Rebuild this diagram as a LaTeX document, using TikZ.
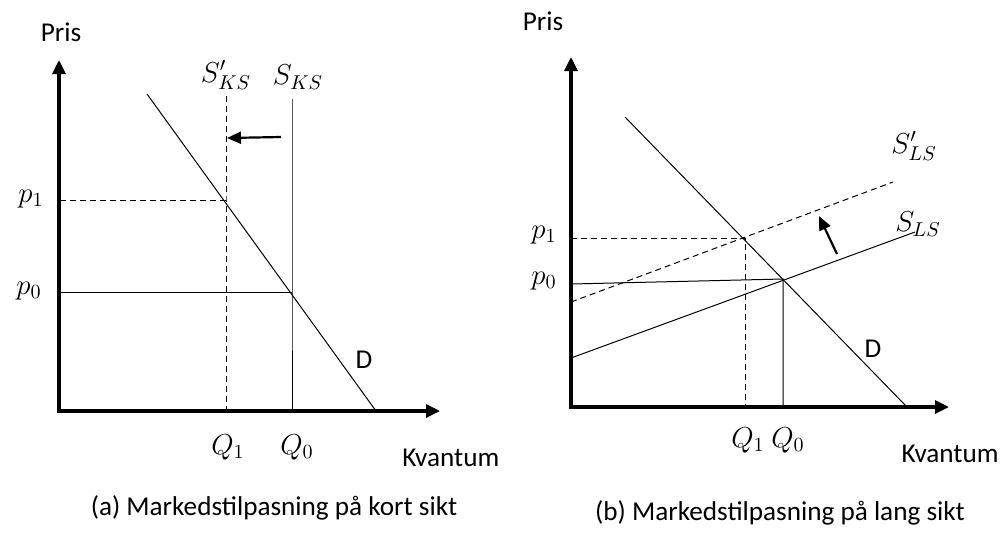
\documentclass[tikz,border=0pt]{standalone}
\usepackage{fontspec}
\setmainfont{Carlito}
\usetikzlibrary{arrows.meta}
\begin{document}
\begin{tikzpicture}[
  x=0.5pt, y=-0.5pt,
  axis/.style={line width=1.6pt, {Triangle[length=7pt,width=6.5pt]}-{Triangle[length=7pt,width=6.5pt]}},
  curve/.style={line width=0.5pt},
  guide/.style={line width=0.5pt, dashed, dash pattern=on 3pt off 2pt},
  shiftarrow/.style={line width=1.1pt, -{Triangle[length=7pt,width=6pt]}},
  txt/.style={font=\fontsize{13.6}{16}\selectfont, inner sep=1pt},
  mth/.style={font=\fontsize{14.5}{17}\selectfont, inner sep=1pt}
]
  \useasboundingbox (0,0) rectangle (1002,532);

  % (a) kort sikt
  \coordinate (o1) at (59,411);
  \coordinate (ytop1) at (59,60);
  \coordinate (xend1) at (440,411);
  \draw[axis] (ytop1) |- (xend1);
  \node[txt] (pris1) at (61,32) {Pris};
  \node[txt, anchor=west] (kv1) at (400,458) {Kvantum};

  \coordinate (d1a) at (147,94);
  \coordinate (d1b) at (376,411);
  \draw[curve] (d1a) -- (d1b);
  \node[txt] (dem1) at (364,360) {D};

  \coordinate (e0) at (292,292);
  \coordinate (e1) at (226,200);
  \coordinate (s1top) at (292,99);
  \coordinate (s2top) at (226,96);
  \draw[curve] (s1top) -- (e0) -- (e0 |- o1);
  \draw[guide] (s2top) -- (e1) -- (e1 |- o1);
  \draw[curve] (e0) -- (e0 -| o1);
  \draw[guide] (e1) -- (e1 -| o1);

  \node[mth] (sks) at (298,77) {$S_{KS}$};
  \node[mth] (sksp) at (226,75) {$S'_{KS}$};
  \node[mth, anchor=east] (p1a) at (46,199) {$p_1$};
  \node[mth, anchor=east] (p0a) at (44,291) {$p_0$};
  \node[mth] (q1a) at (228,447) {$Q_1$};
  \node[mth] (q0a) at (297,447) {$Q_0$};

  \coordinate (arra) at (281,137);
  \coordinate (arrb) at (227,138);
  \draw[shiftarrow] (arra) -- (arrb);

  \node[txt] (capa) at (274,508) {(a) Markedstilpasning på kort sikt};

  % (b) lang sikt
  \coordinate (o2) at (571,407);
  \coordinate (ytop2) at (571,57);
  \coordinate (xend2) at (949,407);
  \draw[axis] (ytop2) |- (xend2);
  \node[txt] (pris2) at (543,21) {Pris};
  \node[txt, anchor=east] (kv2) at (1001,454) {Kvantum};

  \coordinate (d2a) at (625,117);
  \coordinate (d2b) at (907,407);
  \draw[curve] (d2a) -- (d2b);
  \node[txt] (dem2) at (873,349) {D};

  \coordinate (sl0) at (571,358);
  \coordinate (sl1) at (915,232);
  \coordinate (slp0) at (571,302);
  \coordinate (slp1) at (893,182);
  \draw[curve] (sl0) -- (sl1);
  \draw[guide] (slp0) -- (slp1);

  \coordinate (f0) at (783,279);
  \coordinate (f1) at (745,238);
  \coordinate (p0b) at (571,284);
  \draw[curve] (p0b) -- (f0) -- (f0 |- o2);
  \draw[guide] (f1 -| o2) -- (f1) -- (f1 |- o2);

  \node[mth] (slsp) at (914,146) {$S'_{LS}$};
  \node[mth] (sls) at (918,224) {$S_{LS}$};
  \node[mth, anchor=east] (p1b) at (559,235) {$p_1$};
  \node[mth, anchor=east] (p0b-l) at (559,281) {$p_0$};
  \node[mth] (q1b) at (748,440) {$Q_1$};
  \node[mth] (q0b) at (788,440) {$Q_0$};

  \coordinate (arrc) at (837,254);
  \coordinate (arrd) at (819,216);
  \draw[shiftarrow] (arrc) -- (arrd);

  \node[txt] (capb) at (780,513) {(b) Markedstilpasning på lang sikt};
\end{tikzpicture}
\end{document}
